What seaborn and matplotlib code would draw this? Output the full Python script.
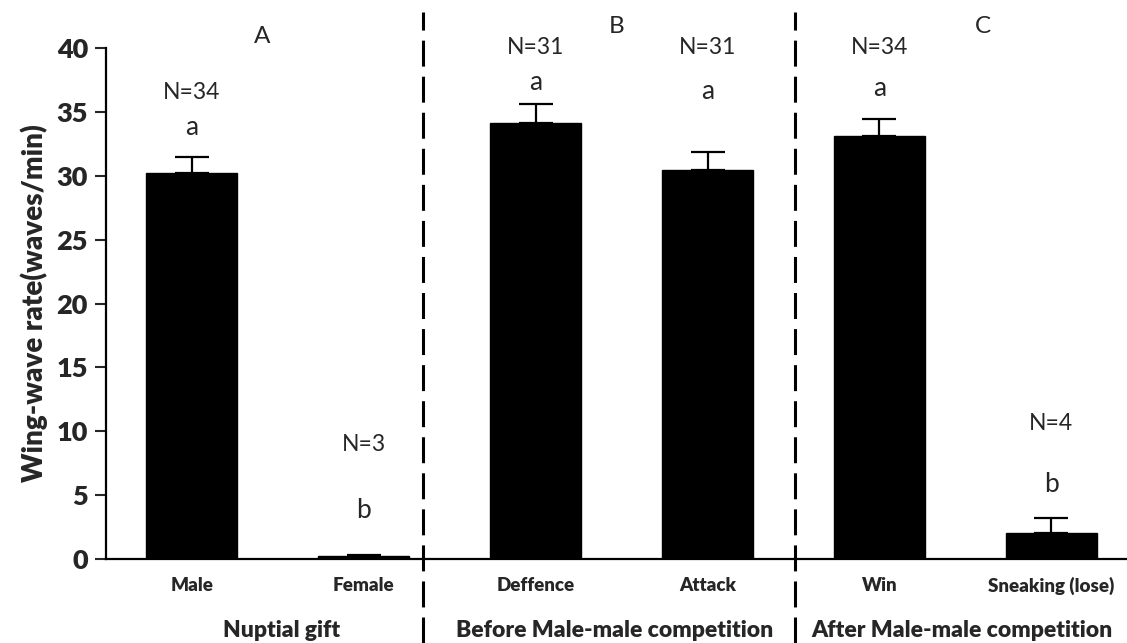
import matplotlib
matplotlib.use("Agg")
import matplotlib.pyplot as plt
import seaborn as sns
import pandas as pd
from matplotlib.lines import Line2D

# Wing-wave rates per behavioural context
categories = ["Male", "Female", "Deffence", "Attack", "Win", "Sneaking (lose)"]
means = [30.2, 0.2, 34.1, 30.45, 33.1, 2.05]
sem = [1.25, 0.15, 1.5, 1.4, 1.35, 1.15]
sample_labels = ["N=34", "N=3", "N=31", "N=31", "N=34", "N=4"]
sample_label_y = [36.5, 9.0, 40.0, 40.0, 40.0, 10.6]
sig_letters = ["a", "b", "a", "a", "a", "b"]
sig_letter_y = [33.8, 3.8, 37.3, 36.6, 36.8, 5.8]
panel_letters = ["A", "B", "C"]
group_names = ["Nuptial gift", "Before Male-male competition", "After Male-male competition"]

df = pd.DataFrame({"condition": categories, "rate": means})

sns.set_theme(style="white")
plt.rcParams["font.family"] = ["Lato", "DejaVu Sans"]

fig = plt.figure(figsize=(11.27, 6.43), dpi=100)
ax = fig.add_axes([106 / 1127, 1 - 559 / 643, 1 - 106 / 1127, (559 - 48) / 643])

sns.barplot(data=df, x="condition", y="rate", color="black", width=0.53,
            errorbar=None, ax=ax, saturation=1)
for p in ax.patches:
    p.set_edgecolor("black")
    p.set_facecolor("black")

xs = list(range(len(categories)))
ax.errorbar(xs, means, yerr=[[0] * len(sem), sem], fmt="none", ecolor="black",
            elinewidth=1.6, capsize=12.5, capthick=1.6, zorder=3)

ax.set_ylim(0, 40)
ax.set_xlim(-0.5, 5.44)
ax.set_yticks(range(0, 41, 5))
ax.tick_params(axis="y", direction="out", length=8, width=1.5, left=True,
               labelsize=19.5, pad=5)
ax.tick_params(axis="x", length=0, labelsize=13.5, pad=13)
for lbl in ax.get_yticklabels() + ax.get_xticklabels():
    lbl.set_fontweight("heavy")

for side in ["top", "right"]:
    ax.spines[side].set_visible(False)
for side in ["left", "bottom"]:
    ax.spines[side].set_linewidth(1.6)
    ax.spines[side].set_color("black")

ax.set_xlabel("")
ax.set_ylabel("Wing-wave rate(waves/min)", fontsize=20, fontweight="heavy", labelpad=6)

# Sample size and significance annotations
for x, t, y in zip(xs, sample_labels, sample_label_y):
    ax.text(x, y, t, ha="center", va="center", fontsize=16.5)
for x, t, y in zip(xs, sig_letters, sig_letter_y):
    ax.text(x, y, t, ha="center", va="center", fontsize=19)

# Panel letters
panel_x = [0.41, 2.47, 4.6]
panel_y = [40.9, 41.7, 41.7]
for x, y, t in zip(panel_x, panel_y, panel_letters):
    ax.text(x, y, t, ha="center", va="center", fontsize=17.5, clip_on=False)

# Group captions below the category labels
group_x = [0.52, 2.46, 4.48]
for x, t in zip(group_x, group_names):
    ax.text(x, -5.6, t, ha="center", va="center", fontsize=16.5, fontweight="heavy",
            clip_on=False)

# Dashed separators between experimental groups
for xpix in [423, 795]:
    fig.add_artist(Line2D([xpix / 1127, xpix / 1127], [0, 1 - 12 / 643],
                          transform=fig.transFigure, color="black", lw=2.2,
                          linestyle=(0, (8.5, 3.3))))

fig.savefig("out.png", dpi=100)
